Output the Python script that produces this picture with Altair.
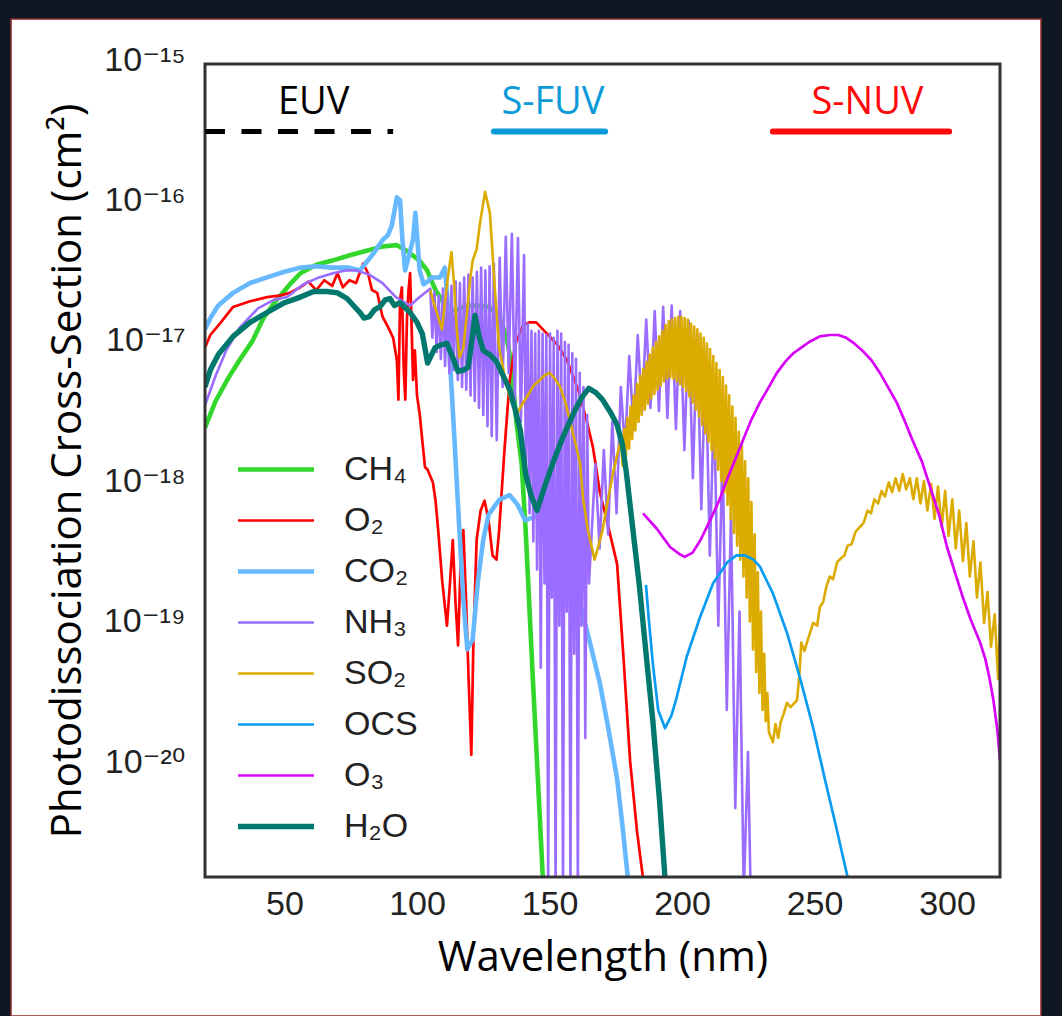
import altair as alt
import pandas as pd

# Photodissociation cross-sections, log10(sigma / cm^2) against wavelength in nm
SPECIES = ["CH₄", "O₂", "CO₂", "NH₃", "SO₂", "OCS", "O₃", "H₂O"]
COLORS = ["#33d62a", "#ff0000", "#66b8ff", "#9a6cff", "#dcab00", "#0a9cf0", "#d900fa", "#00786d"]
WIDTHS = [4.6, 2.7, 4.6, 2.6, 2.6, 2.7, 2.7, 5.4]

CH4 = [(20, -17.59), (24, -17.40), (29, -17.23), (33, -17.11), (38, -16.97), (42, -16.81),
       (47, -16.68), (52, -16.57), (56, -16.49), (62, -16.43), (68, -16.40), (75, -16.36),
       (81, -16.33), (87, -16.30), (92.4, -16.29), (96, -16.33), (101, -16.40), (103.8, -16.47),
       (107, -16.61), (110, -16.70), (113, -16.75), (115.5, -16.75), (119, -16.72), (122.6, -16.72),
       (127, -16.73), (130, -16.77), (132, -16.84), (134, -16.97), (135.5, -17.12), (137.5, -17.55),
       (139.5, -17.85), (141, -18.32), (143.8, -19.41), (147.5, -20.80), (149, -21.5)]

O2 = [(20, -17.02), (22, -16.93), (26, -16.84), (30.6, -16.73), (37, -16.69), (43.4, -16.66),
      (48, -16.65), (52, -16.63), (56, -16.59), (59, -16.55), (62, -16.61), (65, -16.54),
      (68, -16.58), (70, -16.49), (72, -16.59), (74.5, -16.54), (77, -16.56), (79.7, -16.42),
      (81.5, -16.49), (83, -16.61), (85, -16.63), (87, -16.80), (89, -16.87), (91, -16.95),
      (92.4, -17.11), (93, -17.39), (93.6, -16.68), (94.3, -16.59), (95, -17.18), (95.6, -17.39),
      (96.2, -16.82), (96.8, -16.61), (97.4, -16.49), (98, -16.89), (98.5, -17.25), (99.2, -17.04),
      (100, -17.36), (101, -17.49), (102, -17.68), (103, -17.87), (104, -17.89), (106, -17.98),
      (107, -18.11), (108, -18.32), (109.5, -18.68), (111.3, -19.00), (112.5, -18.68), (113.5, -18.39),
      (114.5, -18.82), (115.5, -19.14), (116.5, -18.53), (117.5, -18.32), (118.5, -18.82), (119.5, -19.39),
      (120.5, -19.92), (121.3, -19.10), (122.5, -18.39), (124, -18.18), (125.5, -18.11), (127, -18.25),
      (128.5, -18.50), (130, -18.53), (131, -18.32), (133, -17.75), (135, -17.25), (137, -17.00),
      (140, -16.86), (142.5, -16.84), (145, -16.84), (150, -16.94), (153, -17.00), (156.6, -17.11),
      (161, -17.33), (164, -17.54), (166.4, -17.73), (169, -18.05), (172, -18.28), (175.5, -18.56),
      (178, -19.25), (180.4, -19.96), (183, -20.46), (185.3, -20.80), (186, -21.5)]

CO2 = [(20, -16.89), (22, -16.81), (25, -16.72), (30.6, -16.63), (37, -16.56), (43.4, -16.52),
       (50, -16.48), (56, -16.45), (62, -16.44), (68, -16.45), (74, -16.45), (78.5, -16.47),
       (81, -16.41), (83.5, -16.35), (85, -16.31), (87.2, -16.25), (89, -16.22), (90.5, -16.15),
       (92.4, -15.95), (93.6, -15.97), (94.5, -16.25), (95.5, -16.47), (97, -16.36), (98.5, -16.25),
       (99.4, -16.06), (100.3, -16.29), (101, -16.47), (102.5, -16.57), (104, -16.55), (105.6, -16.52),
       (108.7, -16.52), (110.5, -16.45), (111.5, -16.68), (112.5, -17.13), (114.3, -17.73), (116, -18.32),
       (117.5, -18.82), (119, -19.17), (121, -19.10), (123, -18.68), (125, -18.39), (127, -18.21),
       (130, -18.13), (131.3, -18.10), (135, -18.07), (138, -18.14), (140.8, -18.25), (145, -18.22),
       (150, -18.35), (155, -18.53), (158, -18.68), (161.5, -18.84), (165, -19.10), (169, -19.41),
       (172, -19.71), (175.5, -20.09), (177.5, -20.42), (179.6, -20.80), (181, -21.5)]

NH3 = [(20, -17.43), (24, -17.22), (28, -17.04), (33, -16.88), (40, -16.74), (46, -16.68),
       (51, -16.66), (57, -16.57), (63, -16.52), (68.3, -16.49), (73, -16.47), (77, -16.47),
       (82, -16.50), (87, -16.56), (92, -16.66), (97.4, -16.72), (101, -16.66), (105, -16.60),
       # first band system
       (105.8, -16.95), (106.6, -16.62), (107.4, -17.05), (108.2, -16.65), (109.0, -17.10),
       (109.8, -16.60), (110.6, -17.15), (111.4, -16.62), (112.2, -17.20), (113.0, -16.58),
       (113.8, -17.18), (114.6, -16.55), (115.4, -17.25), (116.2, -16.56), (117.0, -17.30),
       (117.8, -16.52), (118.6, -17.32), (119.4, -16.50), (120.2, -17.36), (121.0, -16.52),
       (121.8, -17.40), (122.6, -16.48), (123.4, -17.45), (124.2, -16.45), (125.0, -17.50),
       (125.8, -16.47), (126.6, -17.58), (127.4, -16.44), (128.2, -17.65), (129.0, -16.42),
       (130.1, -17.68), (131.2, -16.38), (132.3, -17.30), (133.5, -16.23), (134.6, -17.20),
       (135.8, -16.21), (136.9, -17.40), (138.1, -16.24), (139.2, -17.55), (140.4, -16.36),
       (141.1, -17.90), (141.8, -16.85), (142.5, -18.20), (143.2, -16.90), (143.9, -18.40),
       (144.6, -16.92), (145.3, -18.60), (146.0, -16.90), (146.7, -19.30), (147.4, -16.92),
       (148.1, -18.70), (148.8, -16.93), (149.5, -20.90), (150.2, -16.92), (150.9, -18.80),
       (151.6, -16.95), (152.3, -20.90), (153.0, -16.90), (153.7, -19.00), (154.4, -16.92),
       (155.1, -20.90), (155.8, -16.98), (156.5, -18.90), (157.2, -17.00), (157.9, -20.90),
       (158.6, -17.06), (159.3, -19.20), (160.0, -17.10), (160.7, -20.90), (161.4, -17.20),
       (162.1, -19.00), (162.8, -17.30), (163.5, -19.80), (164.2, -17.50), (164.9, -18.70),
       # second band system
       (167.3, -17.85), (168.9, -18.45), (170.5, -17.75), (172.1, -18.35), (173.7, -17.55),
       (175.3, -18.20), (176.9, -17.30), (178.5, -17.75), (180.1, -17.08), (181.7, -17.60),
       (183.3, -16.93), (184.9, -17.48), (186.5, -16.82), (188.1, -17.45), (189.7, -16.76),
       (191.3, -17.47), (192.9, -16.73), (194.5, -17.52), (196.1, -16.72), (197.7, -17.60),
       (199.3, -16.76), (200.9, -17.75), (202.5, -16.83), (204.1, -17.95), (205.7, -16.92),
       (207.3, -18.17), (208.9, -17.08), (210.5, -18.50), (212.1, -17.40), (213.7, -19.00),
       (215.3, -17.75), (216.9, -19.60), (218.5, -18.20), (220.1, -20.30), (221.7, -18.90),
       (223.3, -20.90), (224.9, -19.90), (226.2, -21.20)]

SO2 = [(105, -16.61), (106, -16.68), (107.5, -16.77), (109.4, -16.89), (111.5, -16.54), (113, -16.34),
       (114, -16.57), (115, -16.89), (116, -17.09), (117.5, -17.02), (119, -16.75), (120, -16.54),
       (121, -16.40), (122.5, -16.32), (123.8, -16.13), (125.7, -15.91), (127.5, -16.06), (129.4, -16.61),
       (131, -17.02), (133, -17.22), (135, -17.37), (137.7, -17.49), (139.5, -17.43), (141.5, -17.37),
       (144, -17.29), (146.4, -17.25), (148, -17.22), (150, -17.20), (152, -17.24), (154, -17.30),
       (156, -17.41), (157.7, -17.54), (159.5, -17.68), (161.5, -17.84), (162.7, -18.10), (164.5, -18.32),
       (167, -18.53), (168.5, -18.43), (170, -18.32), (172, -18.11), (174, -17.91), (176, -17.75),
       # dense vibronic structure
       (177, -17.67), (177.6, -17.86), (178.2, -17.60), (178.8, -17.80), (179.4, -17.52), (180, -17.74),
       (180.6, -17.44), (181.2, -17.67), (181.8, -17.36), (182.4, -17.61), (183, -17.28), (183.6, -17.55),
       (184.2, -17.22), (184.8, -17.50), (185.4, -17.17), (186, -17.46), (186.6, -17.12), (187.2, -17.42),
       (187.8, -17.07), (188.4, -17.38), (189, -17.02), (189.6, -17.35), (190.2, -16.98), (190.8, -17.32),
       (191.4, -16.94), (192, -17.29), (192.6, -16.90), (193.2, -17.26), (193.8, -16.86), (194.4, -17.24),
       (195, -16.83), (195.6, -17.23), (196.2, -16.82), (196.8, -17.24), (197.4, -16.81), (198, -17.26),
       (198.6, -16.80), (199.2, -17.28), (199.8, -16.80), (200.4, -17.30), (201, -16.81), (201.6, -17.33),
       (202.2, -16.82), (202.8, -17.37), (203.4, -16.85), (204, -17.41), (204.6, -16.87), (205.2, -17.46),
       (205.8, -16.89), (206.4, -17.51), (207, -16.92), (207.6, -17.57), (208.2, -16.95), (208.8, -17.63),
       (209.4, -16.99), (210, -17.69), (210.6, -17.03), (211.2, -17.75), (211.8, -17.08), (212.4, -17.81),
       (213, -17.13), (213.6, -17.89), (214.2, -17.18), (214.8, -17.97), (215.4, -17.23), (216, -18.05),
       (216.6, -17.29), (217.2, -18.14), (217.8, -17.36), (218.4, -18.24), (219, -17.44), (219.6, -18.34),
       (220.2, -17.52), (220.8, -18.43), (221.4, -17.62), (222, -18.53), (222.6, -17.72), (223.2, -18.65),
       (223.8, -17.83), (224.4, -18.80), (225, -17.95), (225.6, -18.97), (226.2, -18.12), (226.8, -19.17),
       (227.4, -18.35), (228, -19.33), (228.6, -18.62), (229.2, -19.48), (229.8, -18.90), (230.4, -19.60),
       (231, -19.20), (231.6, -19.68), (232.2, -19.48), (232.8, -19.76),
       # second absorption system
       (234.3, -19.83), (235.3, -19.70), (236.3, -19.80), (237.2, -19.69), (238.5, -19.62),
       (239.6, -19.55), (241, -19.58), (243.4, -19.53), (244.3, -19.35), (245, -19.12),
       (246.2, -19.18), (248, -19.07), (249.5, -18.98), (251, -19.00), (252, -18.87),
       (253.3, -18.83), (254.5, -18.72), (255.8, -18.65), (257, -18.67), (258.5, -18.55),
       (260, -18.52), (261.3, -18.50), (262.5, -18.43), (264, -18.42), (265.5, -18.33),
       (267, -18.30), (268.5, -18.27), (270, -18.18), (271.3, -18.20), (272.6, -18.10),
       (274, -18.13), (275.3, -18.04), (276.6, -18.08), (278, -17.98), (279.3, -18.05),
       (280.6, -17.95), (282, -18.04), (283.3, -17.92), (284.6, -18.03), (286, -17.95),
       (287.3, -18.10), (288.6, -17.95), (290, -18.13), (291.3, -17.97), (292.6, -18.18),
       (294, -17.99), (295.3, -18.24), (296.6, -18.01), (298, -18.30), (299.3, -18.04),
       (300.6, -18.36), (302, -18.10), (303.3, -18.45), (304.6, -18.18), (306, -18.54),
       (307.3, -18.27), (308.6, -18.65), (310, -18.40), (311.3, -18.80), (312.6, -18.55),
       (314, -18.98), (315.3, -18.76), (316.6, -19.15), (318, -18.92), (319.3, -19.38), (320, -18.98)]

OCS = [(186.4, -18.71), (187.5, -18.96), (189, -19.27), (191, -19.60), (193.6, -19.73), (196, -19.64),
       (198, -19.51), (201.8, -19.22), (206.8, -18.94), (211.7, -18.70), (217, -18.55), (220.5, -18.50),
       (223.8, -18.50), (227, -18.53), (229.4, -18.58), (234.3, -18.77), (239.6, -19.05), (244.5, -19.37),
       (249.4, -19.72), (254, -20.10), (258, -20.42), (262.6, -20.80), (264, -21.3)]

O3 = [(185.3, -18.20), (190.5, -18.31), (195.5, -18.44), (199, -18.49), (201, -18.51), (204, -18.48),
      (207, -18.39), (210.6, -18.25), (214, -18.11), (217, -17.96), (220, -17.82), (223, -17.68),
      (226, -17.54), (229.4, -17.41), (232.5, -17.31), (235.8, -17.20), (239, -17.12), (242, -17.06),
      (245, -17.02), (248, -16.98), (252, -16.94), (255.8, -16.93), (259, -16.93), (262, -16.95),
      (265, -16.99), (268, -17.04), (271.5, -17.11), (274.7, -17.20), (278, -17.31), (281, -17.41),
      (284, -17.54), (287, -17.68), (290.5, -17.83), (293.6, -18.01), (297, -18.21), (300, -18.44),
      (303, -18.62), (306, -18.80), (309, -18.96), (312.5, -19.12), (314.5, -19.24), (316, -19.37),
      (317.5, -19.53), (319, -19.74), (320, -19.96)]

H2O = [(20, -17.30), (22, -17.18), (25, -17.07), (30.6, -16.94), (37, -16.84), (43.4, -16.77),
       (50, -16.70), (56, -16.66), (61, -16.62), (66, -16.62), (70, -16.63), (73.6, -16.67),
       (76, -16.72), (78.5, -16.77), (80, -16.81), (82, -16.80), (84, -16.75), (86, -16.73),
       (88, -16.68), (89.8, -16.67), (91.5, -16.72), (93.6, -16.70), (97.4, -16.77), (100, -16.84),
       (102, -16.92), (104, -17.13), (106.8, -17.02), (109, -17.00), (111.3, -16.99), (113.5, -17.09),
       (115.5, -17.19), (117.5, -17.18), (119.3, -17.16), (120.5, -17.00), (121.9, -16.79), (123.3, -16.93),
       (125, -17.04), (127.5, -17.07), (130, -17.12), (132.5, -17.22), (135, -17.32), (137, -17.46),
       (139, -17.61), (141, -17.92), (143, -18.07), (145.3, -18.18), (148, -18.02), (151.3, -17.84),
       (155, -17.66), (159, -17.49), (162, -17.38), (164.8, -17.31), (167.5, -17.34), (170, -17.39),
       (173, -17.48), (175.5, -17.57), (177.5, -17.71), (179, -17.91), (181.5, -18.32), (184, -18.73),
       (186.5, -19.21), (189, -19.68), (191.5, -20.24), (193.6, -20.80), (195, -21.4)]

SERIES = [CH4, O2, CO2, NH3, SO2, OCS, O3, H2O]

# Spectral bands marked along the top of the plot
BAND_NAMES = ["EUV", "S-FUV", "S-NUV"]
BAND_START = [20, 129, 234.3]
BAND_END = [91, 171, 300.8]
BAND_LABEL_WL = [61, 151.3, 270]
BAND_COLORS = ["#000000", "#0a9ad8", "#ff0a0a"]
BAND_LINE_SIGMA = 3.3e-16
BAND_TEXT_SIGMA = 5.3e-16

X_TICKS = [50, 100, 150, 200, 250, 300]
Y_EXPONENTS = [-15, -16, -17, -18, -19, -20]

SUP = str.maketrans("-0123456789", "⁻⁰¹²³⁴⁵⁶⁷⁸⁹")

rows = []
for name, pts in zip(SPECIES, SERIES):
    for i, (wl, lg) in enumerate(pts):
        rows.append({"species": name, "wl": wl, "sigma": 10.0 ** lg, "idx": i})
spectra = pd.DataFrame(rows)

bands = pd.DataFrame({
    "band": BAND_NAMES, "start": BAND_START, "end": BAND_END,
    "label_wl": BAND_LABEL_WL,
    "line_sigma": BAND_LINE_SIGMA, "text_sigma": BAND_TEXT_SIGMA,
})

x_scale = alt.Scale(domain=[20, 320], nice=False, zero=False)
y_scale = alt.Scale(type="log", domain=[10 ** -20.79, 1e-15], nice=False)

# "10⁻¹⁵" style labels for the decades
label_expr = "''"
for e in reversed(Y_EXPONENTS):
    label_expr = f"datum.value > {10.0 ** (e - 0.5)!r} ? '10{str(e).translate(SUP)}' : " + label_expr

x_axis = alt.Axis(values=X_TICKS, title="Wavelength (nm)", grid=False, ticks=False, tickSize=0,
                  domain=False, labelFont="Liberation Sans", labelFontSize=34, labelColor="#222222",
                  labelPadding=10, titleFont="Open Sans", titleFontSize=42, titleFontWeight="normal",
                  titleColor="#000000", titlePadding=16, zindex=1)
y_axis = alt.Axis(values=[10.0 ** e for e in Y_EXPONENTS], labelExpr=label_expr,
                  title="Photodissociation Cross-Section (cm²)", grid=False, ticks=False, tickSize=0,
                  domain=False, labelFont="Liberation Sans, DejaVu Sans", labelFontSize=34,
                  labelColor="#222222", labelPadding=20, labelOffset=-4,
                  titleFont="Open Sans", titleFontSize=42, titleFontWeight="normal",
                  titleColor="#000000", titlePadding=14, zindex=1)

legend = alt.Legend(orient="none", legendX=30, legendY=381, title=None, symbolType="stroke",
                    symbolSize=5776, clipHeight=49, rowPadding=2, padding=0, labelOffset=27,
                    labelFont="Liberation Sans, DejaVu Sans", labelFontSize=34, labelColor="#222222",
                    zindex=1)

card = pd.DataFrame({"card": [0]})

# white card behind the figure, on the dark page
panel = alt.Chart(card).mark_rect(fill="#ffffff", stroke="#8e2a2a", strokeWidth=1.5).encode(
    x=alt.value(-194), x2=alt.value(836), y=alt.value(-45), y2=alt.value(952))

# box around the plotting area
frame = alt.Chart(card).mark_rect(fill=None, filled=False, stroke="#333333", strokeWidth=3).encode(
    x=alt.value(0), x2=alt.value("width"), y=alt.value(0), y2=alt.value("height"))

lines = alt.Chart(spectra).mark_line(clip=True, strokeJoin="round").encode(
    x=alt.X("wl:Q", scale=x_scale, axis=x_axis),
    y=alt.Y("sigma:Q", scale=y_scale, axis=y_axis),
    color=alt.Color("species:N", scale=alt.Scale(domain=SPECIES, range=COLORS), legend=legend),
    strokeWidth=alt.StrokeWidth("species:N",
                                scale=alt.Scale(type="ordinal", domain=SPECIES, range=WIDTHS),
                                legend=legend),
    detail="species:N",
    order="idx:Q",
)

band_layers = []
for name, color in zip(BAND_NAMES, BAND_COLORS):
    one = alt.Chart(bands).transform_filter(alt.datum.band == name)
    if name == "EUV":
        rule = one.mark_rule(strokeWidth=5, strokeDash=[20, 16.5], color=color)
    else:
        rule = one.mark_rule(strokeWidth=6, strokeCap="round", color=color)
    band_layers.append(rule.encode(x="start:Q", x2="end:Q", y="line_sigma:Q"))
    band_layers.append(
        one.mark_text(font="Open Sans", fontSize=38, baseline="middle", color=color).encode(
            x="label_wl:Q", y="text_sigma:Q", text="band:N"))

chart = alt.layer(panel, lines, frame, *band_layers).properties(
    width=795, height=813,
    autosize=alt.AutoSizeParams(type="none"),
    padding={"left": 205, "top": 64, "right": 62, "bottom": 139},
    background="#111623",
).configure_view(stroke=None)

chart.save("out.html", embed_options={"renderer": "svg", "actions": False})
